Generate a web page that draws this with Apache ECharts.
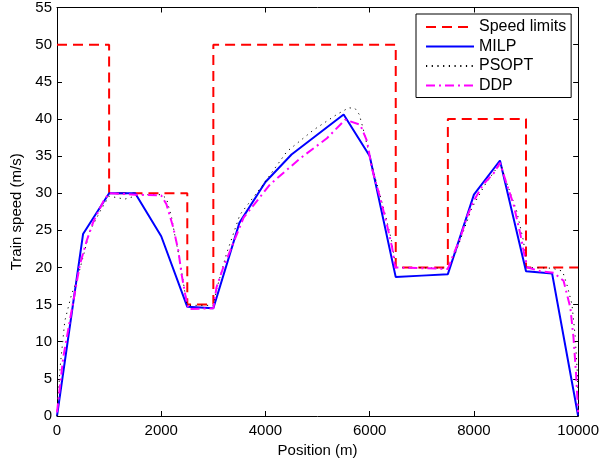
<!DOCTYPE html>
<html>
<head>
<meta charset="utf-8">
<script src="https://cdn.jsdelivr.net/npm/echarts@6/dist/echarts.min.js"></script>
<style>
html,body{margin:0;padding:0;background:#fff;}
#c{width:602px;height:466px;}
</style>
</head>
<body>
<div id="c"></div>
<script>
// Speed limit steps (value holds until next position)
const limitPos = [0, 1000, 2500, 3000, 6500, 7500, 9000, 10000];
const limitVal = [50, 30, 15, 50, 20, 40, 20, 20];

// MILP
const milpPos = [0, 500, 1000, 1500, 2000, 2500, 3000, 3500, 4000, 4500, 5000, 5500, 6000, 6500, 7000, 7500, 8000, 8500, 9000, 9500, 10000];
const milpVal = [0, 24.5, 30, 30, 24.2, 14.7, 14.5, 26, 31.5, 35.2, 37.9, 40.6, 35, 18.7, 18.9, 19.1, 29.8, 34.4, 19.5, 19.2, 0];

// PSOPT
const psoptPos = [0, 60, 150, 280, 380, 630, 830, 1000, 1300, 1600, 2000, 2100, 2200, 2270, 2360, 2420, 2490, 2550, 3000, 3060, 3250, 3510, 3960, 4410, 4920, 5370, 5600, 5720, 5800, 5870, 6070, 6300, 6420, 6500, 7500, 7650, 7960, 8200, 8440, 8520, 8600, 8820, 8950, 9020, 9500, 9700, 9780, 9880, 9940, 9990, 10000];
const psoptVal = [0, 6.6, 12.8, 16.4, 18.2, 24.9, 27.6, 29.6, 29.2, 29.8, 29.8, 29.3, 26.7, 24, 20.9, 18.2, 15.1, 14.9, 14.9, 17, 21.8, 27.1, 31.2, 35.6, 38.5, 40.6, 41.5, 41.4, 40.6, 38.8, 33, 27.1, 23.6, 20, 19.9, 22, 28, 31, 33.4, 33.8, 32, 27.6, 23.6, 20, 19.9, 19.5, 17.8, 15.1, 11, 5.2, 0];

// DDP
const ddpPos = [0, 120, 350, 440, 570, 700, 890, 1000, 1500, 2000, 2100, 2230, 2330, 2390, 2460, 2520, 3000, 3060, 3190, 3320, 3580, 4090, 4670, 5180, 5530, 5560, 5820, 5950, 6040, 6200, 6330, 6430, 6490, 7500, 7610, 7740, 7860, 7990, 8180, 8380, 8500, 8630, 8760, 8890, 8980, 9030, 9270, 9530, 9720, 9850, 9910, 9960, 10000];
const ddpVal = [0.5, 7.9, 16.9, 20.4, 23.6, 26.2, 28.9, 30.0, 29.8, 29.7, 28.5, 25.4, 22.2, 19.1, 16.4, 14.4, 14.5, 17.3, 20, 22.2, 26.7, 31.2, 34.7, 37.4, 39.9, 39.9, 39.2, 37, 33.4, 29.4, 25.8, 22.7, 20.0, 19.8, 21.8, 24, 26.7, 28.9, 31.2, 32.7, 34.1, 31.2, 28.5, 24.5, 21.3, 20, 19.5, 19.3, 18.2, 14.6, 10.6, 5.7, 0.5];

const xTitle = 'Position (m)';
const yTitle = 'Train speed (m/s)';
const names = ['Speed limits', 'MILP', 'PSOPT', 'DDP'];

function pairs(xs, ys){ return xs.map((x,i)=>[x, ys[i]]); }

const FONT = 'Liberation Sans, Arial, Helvetica, sans-serif';
const FS = 15;

const baseAxis = {
  axisLine: {show: true, onZero: false, lineStyle: {color: '#000', width: 1}},
  axisTick: {show: true, inside: true, length: 5, lineStyle: {color: '#000', width: 1}},
  splitLine: {show: false}
};

const chart = echarts.init(document.getElementById('c'), null, {renderer: 'canvas'});
chart.setOption({
  animation: false,
  backgroundColor: '#fff',
  textStyle: {fontFamily: FONT},
  grid: {left: 57, top: 6, right: 23, bottom: 50, containLabel: false},
  legend: {
    orient: 'vertical',
    left: 416, top: 14,
    padding: [5, 5, 4, 9],
    itemWidth: 48, itemHeight: 14, itemGap: 3.5,
    borderColor: '#000', borderWidth: 1, backgroundColor: '#fff', borderRadius: 0,
    itemStyle: {opacity: 0, color: 'rgba(0,0,0,0)', borderWidth: 0},
    textStyle: {fontFamily: FONT, fontSize: 16, color: '#000', padding: [0,0,0,0]},
    data: names.map(n => ({name: n}))
  },
  xAxis: [
    Object.assign({}, baseAxis, {
      type: 'value', position: 'bottom', min: 0, max: 10000, interval: 2000,
      name: xTitle, nameLocation: 'middle', nameGap: 21,
      nameTextStyle: {fontFamily: FONT, fontSize: FS, color: '#000'},
      axisLabel: {fontFamily: FONT, fontSize: FS, color: '#000', margin: 7, formatter: v => String(v)}
    }),
    Object.assign({}, baseAxis, {
      type: 'value', position: 'top', min: 0, max: 10000, interval: 2000,
      axisLabel: {show: false}
    })
  ],
  yAxis: [
    Object.assign({}, baseAxis, {
      type: 'value', position: 'left', min: 0, max: 55, interval: 5,
      name: yTitle, nameLocation: 'middle', nameGap: 32, nameRotate: 90,
      nameTextStyle: {fontFamily: FONT, fontSize: FS, color: '#000'},
      axisLabel: {fontFamily: FONT, fontSize: FS, color: '#000', margin: 5}
    }),
    Object.assign({}, baseAxis, {
      type: 'value', position: 'right', min: 0, max: 55, interval: 5,
      axisLabel: {show: false}
    })
  ],
  series: [
    {
      name: names[0], type: 'line', step: 'end', symbol: 'none', showSymbol: false,
      data: pairs(limitPos, limitVal),
      lineStyle: {color: '#ff0000', width: 2, type: [10, 6]},
      itemStyle: {color: '#ff0000'}, z: 2
    },
    {
      name: names[1], type: 'line', symbol: 'none', showSymbol: false,
      data: pairs(milpPos, milpVal),
      lineStyle: {color: '#0000ff', width: 2, type: 'solid'},
      itemStyle: {color: '#0000ff'}, z: 3
    },
    {
      name: names[2], type: 'line', symbol: 'none', showSymbol: false,
      data: pairs(psoptPos, psoptVal),
      lineStyle: {color: '#000000', width: 1, type: [1.2, 4.5]},
      itemStyle: {color: '#000000'}, z: 4
    },
    {
      name: names[3], type: 'line', symbol: 'none', showSymbol: false,
      data: pairs(ddpPos, ddpVal),
      lineStyle: {color: '#ff00ff', width: 2, type: [9, 4, 2, 4]},
      itemStyle: {color: '#ff00ff'}, z: 5
    }
  ]
});
</script>
</body>
</html>
